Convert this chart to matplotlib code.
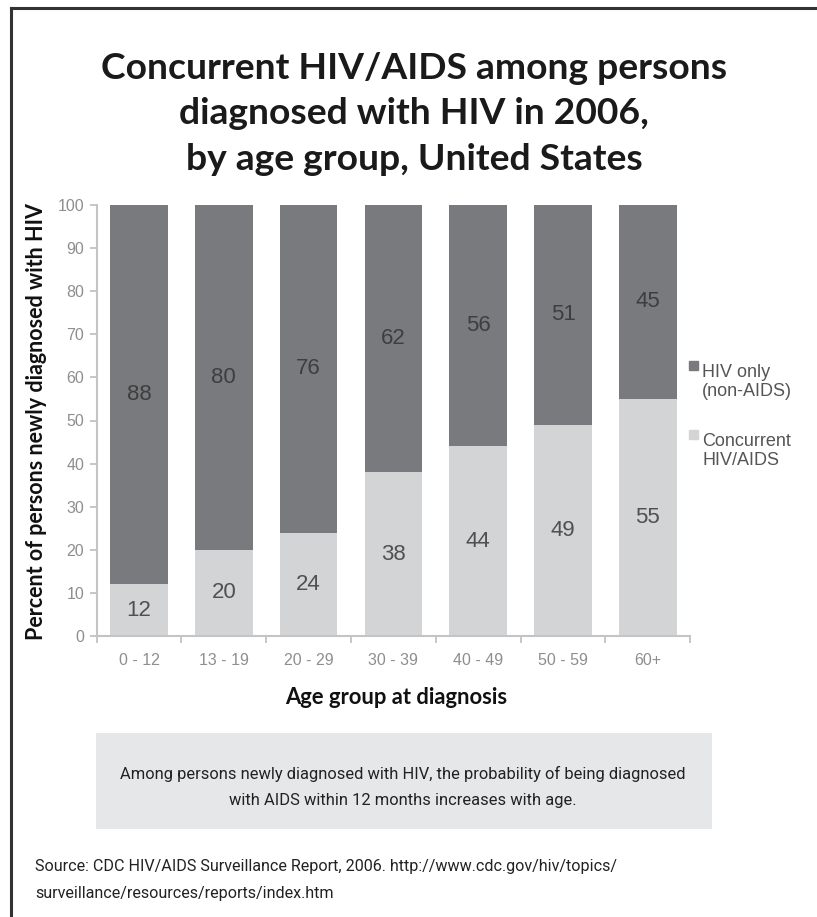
import matplotlib
matplotlib.use("Agg")
import matplotlib.pyplot as plt
from matplotlib.patches import Rectangle
from matplotlib.lines import Line2D
import numpy as np

W, H = 817, 917

age_groups = ["0 - 12", "13 - 19", "20 - 29", "30 - 39", "40 - 49", "50 - 59", "60+"]
concurrent = [12, 20, 24, 38, 44, 49, 55]
hiv_only = [88, 80, 76, 62, 56, 51, 45]
series_names = ["HIV only\n(non-AIDS)", "Concurrent\nHIV/AIDS"]

title = "Concurrent HIV/AIDS among persons\ndiagnosed with HIV in 2006,\nby age group, United States"
ylabel = "Percent of persons newly diagnosed with HIV"
xlabel = "Age group at diagnosis"
note = ("Among persons newly diagnosed with HIV, the probability of being diagnosed\n"
        "with AIDS within 12 months increases with age.")
source = ("Source: CDC HIV/AIDS Surveillance Report, 2006. http://www.cdc.gov/hiv/topics/\n"
          "surveillance/resources/reports/index.htm")

DARK = "#797a7d"
LIGHT = "#d3d4d6"
TICK = "#8e8e8e"
NARROW = ["Roboto", "DejaVu Sans"]
BOLD = ["Lato", "DejaVu Sans"]


def fx(px):
    return px / W


def fy(py):
    return 1 - py / H


fig = plt.figure(figsize=(W / 100, H / 100), dpi=100)

# frame lines on top and left edge
fig.add_artist(Line2D([fx(11), 1], [fy(8), fy(8)], color="#333333", lw=2.2))
fig.add_artist(Line2D([fx(11), fx(11)], [fy(8), 0], color="#333333", lw=2.2))

fig.text(fx(414), fy(114), title, ha="center", va="center", fontsize=26.8,
         fontweight="bold", family=BOLD, linespacing=1.48, color="#1a1a1a")

ax_left, ax_right, ax_top, ax_bot = 96.6, 690.2, 205, 636
ax = fig.add_axes([fx(ax_left), fy(ax_bot), fx(ax_right - ax_left), (ax_bot - ax_top) / H])

x = np.arange(len(age_groups))
bw = 0.68
b1 = ax.bar(x, concurrent, bw, color=LIGHT, label=series_names[1])
b2 = ax.bar(x, hiv_only, bw, bottom=concurrent, color=DARK, label=series_names[0])

for i in range(len(x)):
    ax.text(x[i], concurrent[i] / 2, str(concurrent[i]), ha="center", va="center",
            fontsize=16, color="#505050", family="Liberation Sans")
    ax.text(x[i], concurrent[i] + hiv_only[i] / 2, str(hiv_only[i]), ha="center",
            va="center", fontsize=16, color="#3e3e3e", family="Liberation Sans")

ax.set_xlim(-0.5, 6.5)
ax.set_ylim(0, 100)
ax.set_yticks(np.arange(0, 101, 10))
ax.set_xticks(x)
ax.set_xticklabels(age_groups)
ax.set_xticks(np.arange(-0.5, 7, 1), minor=True)
ax.tick_params(axis="x", which="major", length=0, pad=12, labelsize=11.5, labelcolor=TICK)
ax.tick_params(axis="x", which="minor", length=5, color="#bdbdbd", width=1.2)
ax.tick_params(axis="y", length=5, color="#bdbdbd", width=1.2, pad=4,
               labelsize=11.5, labelcolor=TICK)
for lab in ax.get_xticklabels() + ax.get_yticklabels():
    lab.set_family("Liberation Sans")
for s in ["top", "right"]:
    ax.spines[s].set_visible(False)
for s in ["left", "bottom"]:
    ax.spines[s].set_color("#c4c4c4")
    ax.spines[s].set_linewidth(1.5)

# legend drawn as markers + labels to the right of the bars
leg_items = [(DARK, series_names[0], 382), (LIGHT, series_names[1], 451)]
for col, name, ypx in leg_items:
    fig.add_artist(Rectangle((fx(689), fy(ypx - 12)), fx(9), 9 / H, color=col,
                             transform=fig.transFigure))
    fig.text(fx(702), fy(ypx), name, ha="left", va="center", fontsize=13,
             color="#555555", family="Liberation Sans", linespacing=1.2)

fig.text(fx(37), fy(422), ylabel, rotation=90, ha="center", va="center",
         fontsize=15.5, fontweight="bold", family=BOLD, color="#111111")
fig.text(fx(396), fy(697), xlabel, ha="center", va="center",
         fontsize=15.8, fontweight="bold", family=BOLD, color="#111111")

fig.add_artist(Rectangle((fx(96), fy(829)), fx(712 - 96), (829 - 733) / H,
                         color="#e6e7e8", transform=fig.transFigure, lw=0))
fig.text(fx(403), fy(787), note, ha="center", va="center", fontsize=11.9,
         family=NARROW, color="#222222", linespacing=1.9)

fig.text(fx(35), fy(880), source, ha="left", va="center", fontsize=11.6,
         family=NARROW, color="#222222", linespacing=2.05)

fig.savefig("out.png", dpi=100)
